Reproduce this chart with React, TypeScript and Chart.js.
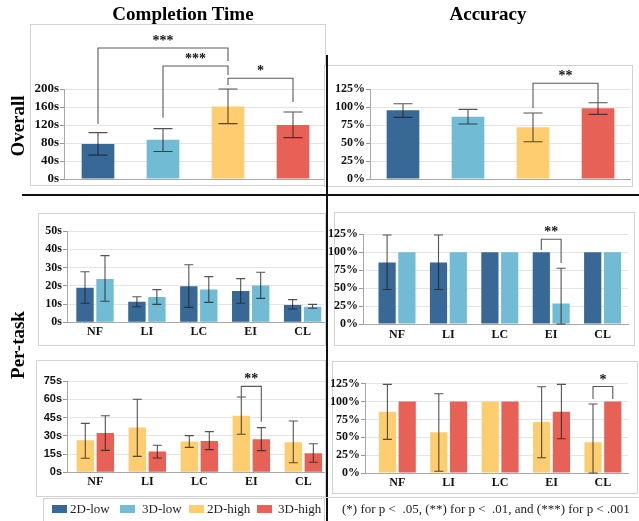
import React, { useEffect, useRef } from "react";
import { Chart, registerables } from "chart.js";

Chart.register(...registerables);

// ---------------- data ----------------
const groups = ["2D-low", "3D-low", "2D-high", "3D-high"];
const tasks = ["NF", "LI", "LC", "EI", "CL"];
const colors = ["#386895", "#71bbd5", "#fecd6f", "#e76156"];

type Err = [number, number] | null;

// Overall completion time (s)
const timeOverall = [78, 87, 161, 120];
const timeOverallErr: Err[] = [[53, 103], [61, 112], [123, 200], [92, 149]];
// Overall accuracy (%)
const accOverall = [95.4, 86.6, 71.8, 98.1];
const accOverallErr: Err[] = [[85.6, 104.6], [76.4, 96.7], [51.8, 91.7], [89.8, 106]];

// Per-task completion time, low (s)
const time2DLow = [18.9, 11.3, 19.7, 17.1, 9.5];
const time2DLowErr: Err[] = [[10.4, 27.7], [8.5, 14], [8.2, 31.5], [10.4, 23.9], [7.3, 12.4]];
const time3DLow = [23.7, 13.9, 18, 20.2, 8.5];
const time3DLowErr: Err[] = [[11.5, 36.5], [9.8, 17.9], [10.9, 25], [13.1, 27.4], [7.7, 9.8]];

// Per-task accuracy, low (%)
const acc2DLow = [85.7, 85.7, 100, 100, 100];
const acc2DLowErr: Err[] = [[48, 124], [48, 124], null, null, null];
const acc3DLow = [100, 100, 100, 28.6, 100];
const acc3DLowErr: Err[] = [null, null, null, [0, 77.6], null];

// Per-task completion time, high (s)
const time2DHigh = [26.3, 36.7, 25.2, 46.5, 24.6];
const time2DHighErr: Err[] = [[11.5, 40.2], [13.1, 60], [20.5, 30.1], [31.2, 61.9], [7.9, 42.1]];
const time3DHigh = [32.3, 17, 25.7, 27.1, 15.6];
const time3DHighErr: Err[] = [[18, 46.5], [11.7, 22.2], [18.6, 33.4], [17.8, 36.7], [8.2, 23.5]];

// Per-task accuracy, high (%)
const acc2DHigh = [85.7, 57.1, 100, 71.4, 42.9];
const acc2DHighErr: Err[] = [[47, 124], [2.4, 111], null, [21.4, 120.8], [0, 96.5]];
const acc3DHigh = [100, 100, 100, 85.7, 100];
const acc3DHighErr: Err[] = [null, null, null, [48, 124], null];

// Significance brackets: [dataset, index] ends, bracket level, left/right leg ends (data units)
type Bracket = { a: [number, number]; b: [number, number]; y: number; yl: number; yr: number; text: string };
const sigTimeOverall: Bracket[] = [
  { a: [0, 0], b: [0, 2], y: 291, yl: 122, yr: 262, text: "***" },
  { a: [0, 1], b: [0, 2], y: 251, yl: 136, yr: 231, text: "***" },
  { a: [0, 2], b: [0, 3], y: 224, yl: 209, yr: 171, text: "*" },
];
const sigAccOverall: Bracket[] = [{ a: [0, 2], b: [0, 3], y: 133, yl: 98.6, yr: 106, text: "**" }];
const sigAccLow: Bracket[] = [{ a: [0, 3], b: [1, 3], y: 118, yl: 103, yr: 85, text: "**" }];
const sigTimeHigh: Bracket[] = [{ a: [0, 3], b: [1, 3], y: 70.6, yl: 62, yr: 41.6, text: "**" }];
const sigAccHigh: Bracket[] = [{ a: [0, 4], b: [1, 4], y: 121, yl: 103.6, yr: 103.6, text: "*" }];

const footnote = "(*) for p <  .05, (**) for p <  .01, and (***) for p < .001";

// ---------------- rendering ----------------
const SERIF = "'Liberation Serif', 'Times New Roman', serif";

type DS = { values: number[]; color: string | string[]; errs: Err[] };
type Spec = {
  rect: { x: number; y: number; w: number; h: number };
  area: { l: number; t: number; r: number; b: number };
  labels: string[] | null;
  datasets: DS[];
  yMax: number;
  yStep: number;
  ySuffix: string;
  yFontSize: number;
  yFontFamily: string;
  xMin: number;
  xMax: number;
  catPct: number;
  barPct: number;
  cap: number;
  xPad: number;
  brackets: Bracket[];
};

function ChartPanel({ spec }: { spec: Spec }) {
  const ref = useRef<HTMLCanvasElement>(null);
  useEffect(() => {
    const { rect, area } = spec;
    const yW = area.l - rect.x;
    const xH = spec.labels ? 20 : 1;
    const padTop = area.t - rect.y;
    const padRight = rect.x + rect.w - area.r;
    const padBottom = Math.max(0, rect.y + rect.h - area.b - xH);
    const annot = {
      id: "annot",
      afterDatasetsDraw(chart: any) {
        const ctx = chart.ctx as CanvasRenderingContext2D;
        const ys = chart.scales.y;
        ctx.save();
        ctx.strokeStyle = "rgba(35,35,35,0.78)";
        ctx.lineWidth = 1.1;
        spec.datasets.forEach((ds, d) => {
          const meta = chart.getDatasetMeta(d);
          ds.errs.forEach((e, i) => {
            if (!e) return;
            const x = meta.data[i].x;
            const y1 = ys.getPixelForValue(e[0]);
            const y2 = ys.getPixelForValue(e[1]);
            ctx.beginPath();
            ctx.moveTo(x, y1);
            ctx.lineTo(x, y2);
            ctx.moveTo(x - spec.cap, y1);
            ctx.lineTo(x + spec.cap, y1);
            ctx.moveTo(x - spec.cap, y2);
            ctx.lineTo(x + spec.cap, y2);
            ctx.stroke();
          });
        });
        spec.brackets.forEach((b) => {
          const xa = chart.getDatasetMeta(b.a[0]).data[b.a[1]].x;
          const xb = chart.getDatasetMeta(b.b[0]).data[b.b[1]].x;
          const yy = ys.getPixelForValue(b.y);
          const yl = ys.getPixelForValue(b.yl);
          const yr = ys.getPixelForValue(b.yr);
          ctx.strokeStyle = "rgba(60,60,60,0.85)";
          ctx.lineWidth = 1.1;
          ctx.beginPath();
          ctx.moveTo(xa, yl);
          ctx.lineTo(xa, yy);
          ctx.lineTo(xb, yy);
          ctx.lineTo(xb, yr);
          ctx.stroke();
          ctx.fillStyle = "#111";
          ctx.font = "bold 14px " + SERIF;
          ctx.textAlign = "center";
          ctx.textBaseline = "alphabetic";
          ctx.fillText(b.text, (xa + xb) / 2, yy - 3);
        });
        ctx.restore();
      },
    };
    const chart = new Chart(ref.current as HTMLCanvasElement, {
      type: "bar",
      data: {
        datasets: spec.datasets.map((ds) => ({
          data: ds.values.map((v, i) => ({ x: i, y: v })),
          backgroundColor: ds.color as any,
          borderWidth: 0,
          categoryPercentage: spec.catPct,
          barPercentage: spec.barPct,
        })),
      } as any,
      options: {
        animation: false,
        responsive: false,
        maintainAspectRatio: false,
        layout: { padding: { left: 0, top: padTop, right: padRight, bottom: padBottom } },
        plugins: { legend: { display: false }, tooltip: { enabled: false } },
        scales: {
          x: {
            type: "linear",
            min: spec.xMin,
            max: spec.xMax,
            offset: false,
            afterBuildTicks: (s: any) => {
              const n = spec.labels ? spec.labels.length : spec.datasets[0].values.length;
              s.ticks = Array.from({ length: n }, (_, i) => ({ value: i }));
            },
            ticks: {
              display: !!spec.labels,
              autoSkip: false,
              maxRotation: 0,
              padding: spec.xPad,
              color: "#111",
              font: { family: SERIF, weight: "bold", size: 12 },
              callback: (v: any) => (spec.labels ? spec.labels[Math.round(v)] : ""),
            },
            grid: { display: false, drawTicks: false, tickLength: 0 },
            border: { color: "#a8a8a8", width: 1 },
            afterFit: (s: any) => {
              s.height = xH;
              s.paddingLeft = 0;
              s.paddingRight = 0;
            },
          },
          y: {
            min: 0,
            max: spec.yMax,
            ticks: {
              stepSize: spec.yStep,
              autoSkip: false,
              padding: 1,
              color: "#111",
              font: { family: spec.yFontFamily, weight: "bold", size: spec.yFontSize },
              callback: (v: any) => v + spec.ySuffix,
            },
            grid: { color: "#e4e4e4", tickColor: "#999", tickLength: 4 },
            border: { color: "#a8a8a8", width: 1 },
            afterFit: (s: any) => {
              s.width = yW;
              s.paddingTop = 0;
              s.paddingBottom = 0;
            },
          },
        },
      } as any,
      plugins: [annot],
    });
    return () => chart.destroy();
  }, []);
  return (
    <canvas
      ref={ref}
      width={spec.rect.w}
      height={spec.rect.h}
      style={{ position: "absolute", left: spec.rect.x, top: spec.rect.y, width: spec.rect.w, height: spec.rect.h }}
    />
  );
}

function xRange(areaL: number, areaR: number, firstCenter: number, step: number): [number, number] {
  const min = -(firstCenter - areaL) / step;
  return [min, min + (areaR - areaL) / step];
}

const lowerCat = 0.77;
const lowerBar = 0.87;

const tlRange = xRange(64, 325, 98, 65);
const trRange = xRange(370, 630, 403, 65);
const mlRange = xRange(67, 324, 95, 51.9);
const mrRange = xRange(363, 628, 397, 51.4);
const blRange = xRange(67, 325, 95.3, 52);
const brRange = xRange(365, 628, 397.3, 51.4);

const specs: Spec[] = [
  {
    rect: { x: 20, y: 24, w: 306, h: 161 },
    area: { l: 64, t: 89, r: 325, b: 179 },
    labels: null,
    datasets: [{ values: timeOverall, color: colors, errs: timeOverallErr }],
    yMax: 200, yStep: 40, ySuffix: "s", yFontSize: 13, yFontFamily: SERIF,
    xMin: tlRange[0], xMax: tlRange[1], catPct: 1, barPct: 0.503, cap: 9.5, xPad: 0,
    brackets: sigTimeOverall,
  },
  {
    rect: { x: 324, y: 65, w: 309, h: 121 },
    area: { l: 370, t: 89, r: 630, b: 179 },
    labels: null,
    datasets: [{ values: accOverall, color: colors, errs: accOverallErr }],
    yMax: 125, yStep: 25, ySuffix: "%", yFontSize: 12, yFontFamily: SERIF,
    xMin: trRange[0], xMax: trRange[1], catPct: 1, barPct: 0.503, cap: 9.5, xPad: 0,
    brackets: sigAccOverall,
  },
  {
    rect: { x: 30, y: 213, w: 295, h: 132 },
    area: { l: 67, t: 231, r: 324, b: 322.3 },
    labels: tasks,
    datasets: [
      { values: time2DLow, color: colors[0], errs: time2DLowErr },
      { values: time3DLow, color: colors[1], errs: time3DLowErr },
    ],
    yMax: 50, yStep: 10, ySuffix: "s", yFontSize: 12, yFontFamily: SERIF,
    xMin: mlRange[0], xMax: mlRange[1], catPct: lowerCat, barPct: lowerBar, cap: 4.5, xPad: 2,
    brackets: [],
  },
  {
    rect: { x: 322, y: 212, w: 312, h: 133 },
    area: { l: 363, t: 234.3, r: 628, b: 324 },
    labels: tasks,
    datasets: [
      { values: acc2DLow, color: colors[0], errs: acc2DLowErr },
      { values: acc3DLow, color: colors[1], errs: acc3DLowErr },
    ],
    yMax: 125, yStep: 25, ySuffix: "%", yFontSize: 12, yFontFamily: SERIF,
    xMin: mrRange[0], xMax: mrRange[1], catPct: lowerCat, barPct: lowerBar, cap: 4.5, xPad: 4,
    brackets: sigAccLow,
  },
  {
    rect: { x: 20, y: 360, w: 305, h: 136 },
    area: { l: 67, t: 381, r: 325, b: 472.3 },
    labels: tasks,
    datasets: [
      { values: time2DHigh, color: colors[2], errs: time2DHighErr },
      { values: time3DHigh, color: colors[3], errs: time3DHighErr },
    ],
    yMax: 75, yStep: 15, ySuffix: "s", yFontSize: 11, yFontFamily: "'Liberation Sans', Arial, sans-serif",
    xMin: blRange[0], xMax: blRange[1], catPct: lowerCat, barPct: lowerBar, cap: 4.5, xPad: 2,
    brackets: sigTimeHigh,
  },
  {
    rect: { x: 322, y: 361, w: 315, h: 132 },
    area: { l: 365, t: 383.7, r: 628, b: 473 },
    labels: tasks,
    datasets: [
      { values: acc2DHigh, color: colors[2], errs: acc2DHighErr },
      { values: acc3DHigh, color: colors[3], errs: acc3DHighErr },
    ],
    yMax: 125, yStep: 25, ySuffix: "%", yFontSize: 12, yFontFamily: SERIF,
    xMin: brRange[0], xMax: brRange[1], catPct: lowerCat, barPct: lowerBar, cap: 4.5, xPad: 3,
    brackets: sigAccHigh,
  },
];

const boxBorder = "1px solid #d2d2d2";

function Box({ l, t, w, h, bg }: { l: number; t: number; w: number; h: number; bg?: string }) {
  return (
    <div
      style={{
        position: "absolute", left: l, top: t, width: w, height: h, boxSizing: "border-box",
        border: boxBorder, background: bg || "transparent",
      }}
    />
  );
}

export default function App() {
  const title: React.CSSProperties = {
    position: "absolute", top: 3, fontFamily: SERIF, fontWeight: "bold", fontSize: 19,
    lineHeight: "22px", whiteSpace: "nowrap", transform: "translateX(-50%)", color: "#000",
  };
  const rowLabel: React.CSSProperties = {
    position: "absolute", fontFamily: SERIF, fontWeight: "bold", fontSize: 19, lineHeight: "22px",
    whiteSpace: "nowrap", transform: "translate(-50%, -50%) rotate(-90deg)", color: "#000",
  };
  const legendItems = [
    { sx: 52, tx: 70 },
    { sx: 120, tx: 142 },
    { sx: 189, tx: 207 },
    { sx: 257, tx: 278 },
  ];
  return (
    <div style={{ position: "absolute", left: 0, top: 0, width: 639, height: 521, overflow: "hidden", background: "#fff" }}>
      <Box l={30} t={24} w={296} h={162} />
      <ChartPanel spec={specs[0]} />
      <Box l={324} t={65} w={309} h={122} bg="#fff" />
      <ChartPanel spec={specs[1]} />
      <Box l={38} t={213} w={288} h={133} />
      <Box l={334} t={212} w={301} h={134} />
      <ChartPanel spec={specs[2]} />
      <ChartPanel spec={specs[3]} />
      <Box l={36} t={360} w={290} h={137} />
      <Box l={332} t={361} w={306} h={133} />
      <ChartPanel spec={specs[4]} />
      <ChartPanel spec={specs[5]} />

      <div style={{ ...title, left: 183 }}>Completion Time</div>
      <div style={{ ...title, left: 488 }}>Accuracy</div>
      <div style={{ ...rowLabel, left: 18, top: 126 }}>Overall</div>
      <div style={{ ...rowLabel, left: 18, top: 345 }}>Per-task</div>

      <div style={{ position: "absolute", left: 22, top: 194, width: 617, height: 2, background: "#111" }} />
      <div style={{ position: "absolute", left: 326, top: 55, width: 2, height: 466, background: "#111" }} />

      <div style={{ position: "absolute", left: 43, top: 498, width: 282, height: 40, boxSizing: "border-box", border: boxBorder }} />
      <div style={{ position: "absolute", left: 325, top: 497, width: 314, height: 1, background: "#d2d2d2" }} />
      {groups.map((g, i) => (
        <React.Fragment key={g}>
          <div style={{ position: "absolute", left: legendItems[i].sx, top: 505, width: 15, height: 8, background: colors[i] }} />
          <div style={{ position: "absolute", left: legendItems[i].tx, top: 501, fontFamily: SERIF, fontSize: 13, lineHeight: "16px", whiteSpace: "nowrap", color: "#222" }}>{g}</div>
        </React.Fragment>
      ))}
      <div style={{ position: "absolute", left: 342, top: 500, fontFamily: SERIF, fontSize: 13, lineHeight: "17px", whiteSpace: "pre", color: "#222" }}>{footnote}</div>
    </div>
  );
}
